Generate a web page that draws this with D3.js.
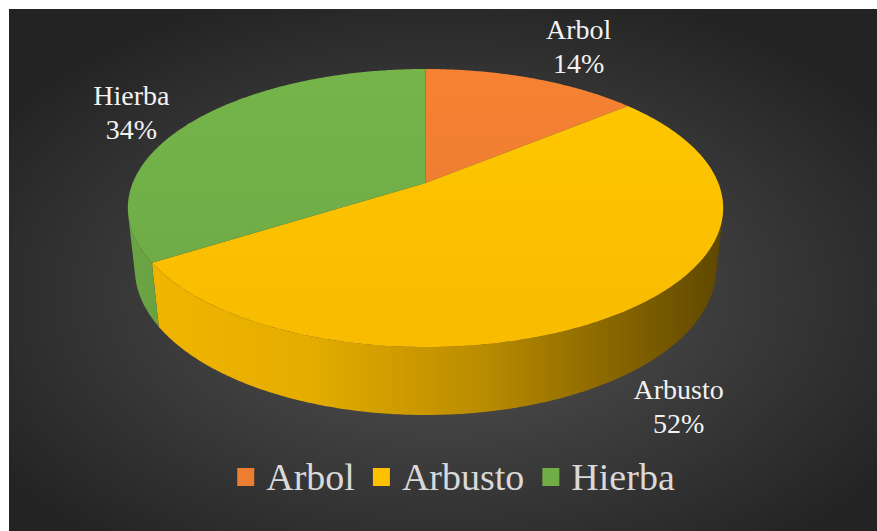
<!DOCTYPE html>
<html>
<head>
<meta charset="utf-8">
<script src="https://cdn.jsdelivr.net/npm/d3@7"></script>
<style>
  html, body { margin: 0; padding: 0; background: #ffffff; }
  svg { display: block; }
</style>
</head>
<body>
<svg id="chart" width="877" height="531" font-family="Liberation Serif"></svg>
<script>
// ---- data ----
const categories = ["Arbol", "Arbusto", "Hierba"];
const values = [14, 52, 34];
const percentLabels = ["14%", "52%", "34%"];
const colors = ["#ED7D31", "#FFC000", "#70AD47"];

// ---- layout ----
const W = 877, H = 531;
const svg = d3.select("#chart");
const defs = svg.append("defs");

// background
const bg = defs.append("radialGradient").attr("id", "bg")
  .attr("cx", "50%").attr("cy", "55%").attr("r", "62%");
bg.append("stop").attr("offset", "0%").attr("stop-color", "#565656");
bg.append("stop").attr("offset", "100%").attr("stop-color", "#232323");
svg.append("rect").attr("x", 9).attr("y", 9).attr("width", W - 9).attr("height", H - 9)
  .attr("fill", "url(#bg)");

// perspective projection of a flat cylinder (pie)
const cx = 425.5, cy = 183;
const sinA = 0.47, cosA = Math.sqrt(1 - sinA * sinA);
const Dcam = 5.56 * cosA;
const fx = 1437, fy = 114 * (Dcam + cosA) / sinA;
const depth = 0.242;
function proj(phi, r, w) {
  const u = r * Math.sin(phi), v = r * Math.cos(phi);
  const zc = v * cosA - w * sinA + Dcam;
  const yc = v * sinA + w * cosA;
  return [cx + fx * u / zc, cy - fy * yc / zc];
}
const cosLim = -1 / (Dcam * cosA);
const visMin = Math.acos(cosLim), visMax = 2 * Math.PI - visMin;

const pie = d3.pie().sort(null).value(d => d.value);
const arcs = pie(categories.map((c, i) => ({ name: c, value: values[i], color: colors[i], pct: percentLabels[i] })));

const pathGen = d3.line();
function samples(a0, a1) {
  const n = Math.max(2, Math.ceil((a1 - a0) / 0.01));
  return d3.range(n + 1).map(k => a0 + (a1 - a0) * k / n);
}

arcs.forEach((a, i) => {
  const base = d3.color(a.data.color);
  const tg = defs.append("linearGradient").attr("id", "top" + i)
    .attr("gradientUnits", "userSpaceOnUse")
    .attr("x1", 0).attr("y1", 60).attr("x2", 0).attr("y2", 350);
  tg.append("stop").attr("offset", "0%").attr("stop-color", base.brighter(0.12).formatHex());
  tg.append("stop").attr("offset", "100%").attr("stop-color", base.darker(0.08).formatHex());
  const sg = defs.append("linearGradient").attr("id", "side" + i)
    .attr("gradientUnits", "userSpaceOnUse")
    .attr("x1", 128).attr("y1", 0).attr("x2", 723).attr("y2", 0);
  sg.append("stop").attr("offset", "0%").attr("stop-color", base.darker(0.15).formatHex());
  sg.append("stop").attr("offset", "30%").attr("stop-color", base.darker(0.3).formatHex());
  sg.append("stop").attr("offset", "60%").attr("stop-color", base.darker(0.9).formatHex());
  sg.append("stop").attr("offset", "100%").attr("stop-color", base.darker(2.8).formatHex());
});

const gPie = svg.append("g");
arcs.forEach((a, i) => {
  const s0 = Math.max(a.startAngle, visMin), s1 = Math.min(a.endAngle, visMax);
  if (s1 <= s0) return;
  const ang = samples(s0, s1);
  const pts = ang.map(t => proj(t, 1, 0)).concat(ang.slice().reverse().map(t => proj(t, 1, -depth)));
  gPie.append("path").attr("d", pathGen(pts) + "Z").attr("fill", `url(#side${i})`);
});
arcs.forEach((a, i) => {
  const ang = samples(a.startAngle, a.endAngle);
  const pts = [proj(0, 0, 0)].concat(ang.map(t => proj(t, 1, 0)));
  gPie.append("path").attr("d", pathGen(pts) + "Z").attr("fill", `url(#top${i})`);
});

// data labels
const labelNudge = [[46, -39], [57, 22], [-58, -18]];
arcs.forEach((a, i) => {
  const mid = (a.startAngle + a.endAngle) / 2;
  const front = Math.cos(mid) < cosLim;
  const p = proj(mid, 1, front ? -depth : 0);
  const x = p[0] + labelNudge[i][0], y = p[1] + labelNudge[i][1];
  svg.append("text").attr("x", x).attr("y", y).attr("text-anchor", "middle")
    .attr("font-family", "Liberation Serif").style("font-family", "Liberation Serif")
    .attr("font-size", 28).attr("fill", "#f2f2f2").text(a.data.name);
  svg.append("text").attr("x", x).attr("y", y + 34).attr("text-anchor", "middle")
    .attr("font-family", "Liberation Serif").style("font-family", "Liberation Serif")
    .attr("font-size", 28).attr("fill", "#f2f2f2").text(a.data.pct);
});

// legend
const legendSpec = arcs.map(a => a.data);
const legendX = [];
let xPos = 0;
legendSpec.forEach(d => {
  legendX.push(xPos);
  const tmp = svg.append("text").attr("font-size", 38)
    .style("font-family", "Liberation Serif").text(d.name);
  const tw = tmp.node().getComputedTextLength();
  tmp.remove();
  xPos += 29 + tw + 18;
});
const startX = 456 - (xPos - 18) / 2;
legendSpec.forEach((d, i) => {
  const gx = startX + legendX[i];
  svg.append("rect").attr("x", gx).attr("y", 468).attr("width", 17).attr("height", 18)
    .attr("fill", d.color);
  svg.append("text").attr("x", gx + 29).attr("y", 490)
    .attr("font-family", "Liberation Serif").style("font-family", "Liberation Serif")
    .attr("font-size", 38).attr("fill", "#d9d9d9").text(d.name);
});
</script>
</body>
</html>
